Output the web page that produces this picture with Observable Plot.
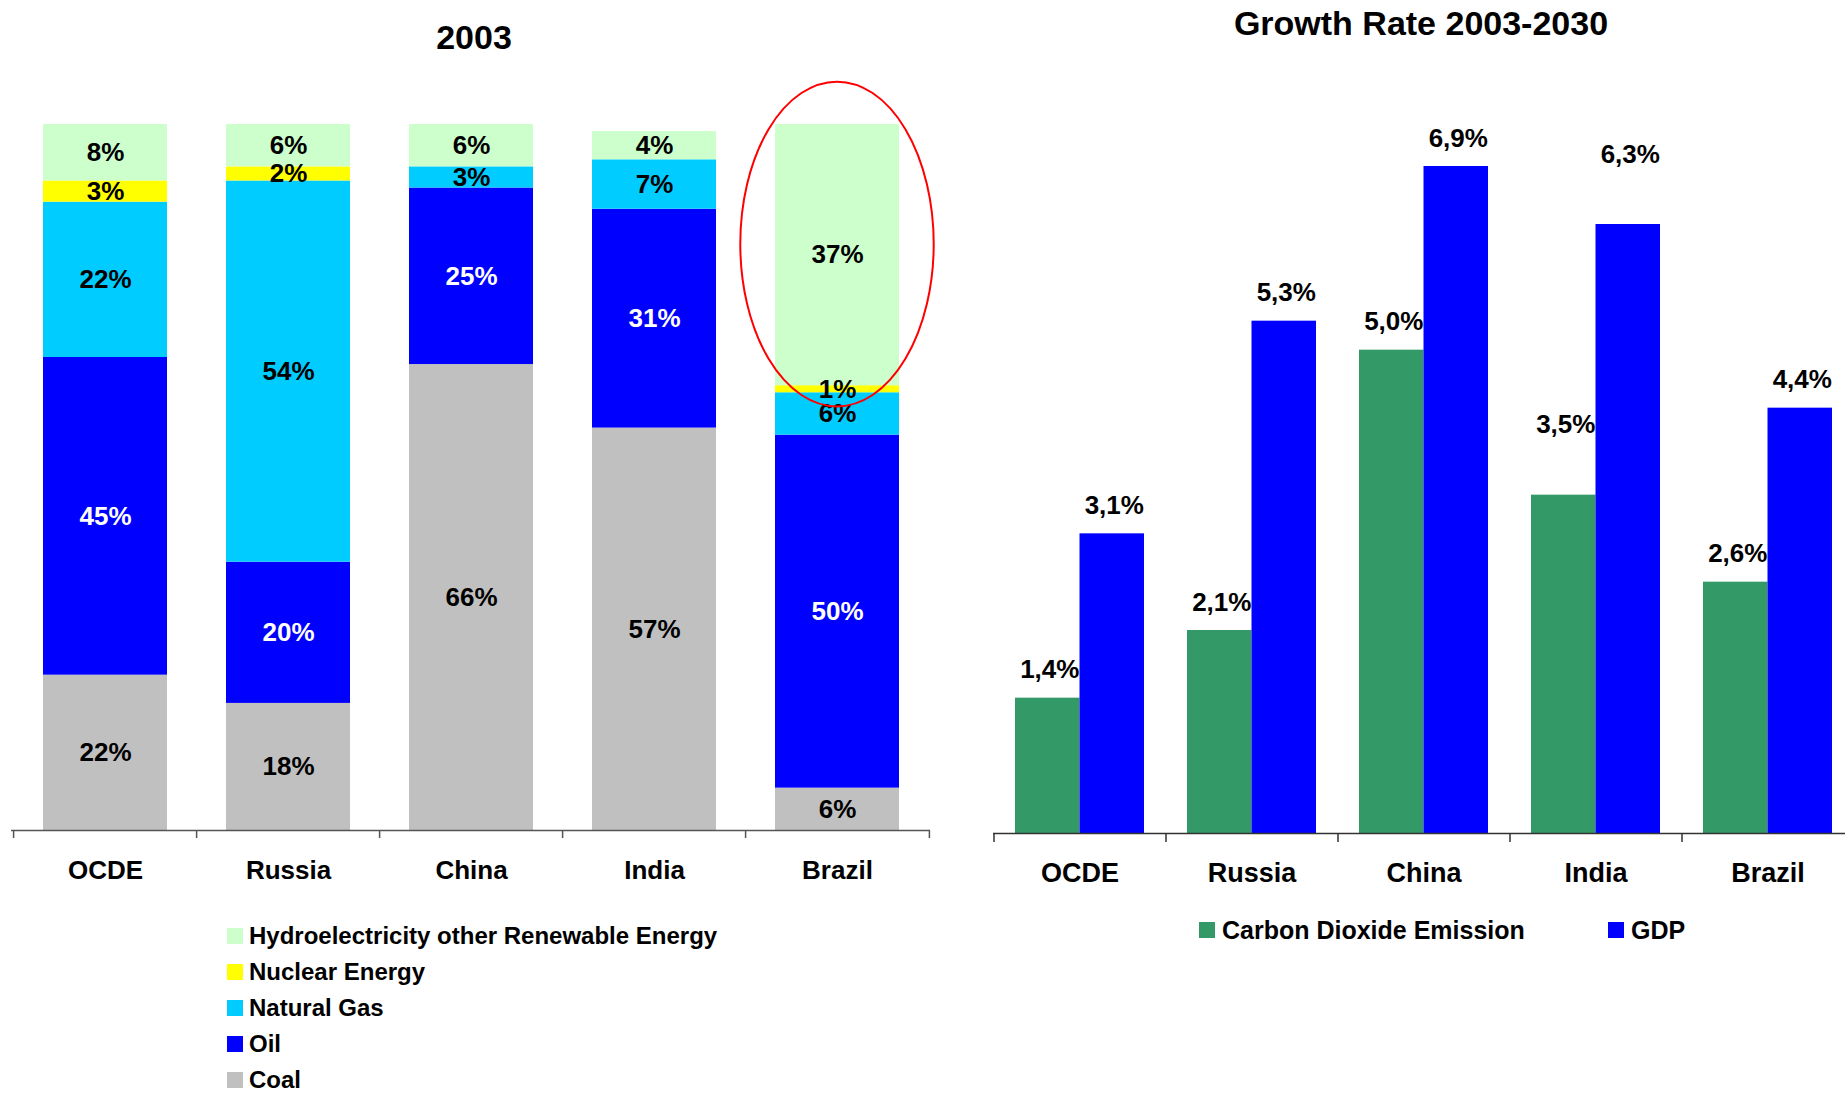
<!DOCTYPE html>
<html>
<head>
<meta charset="utf-8">
<script src="https://cdn.jsdelivr.net/npm/d3@7"></script>
<script src="https://cdn.jsdelivr.net/npm/@observablehq/plot@0.6"></script>
<style>
  html, body { margin: 0; padding: 0; background: #fff; overflow: hidden; }
  #root { position: relative; width: 1845px; height: 1093px; overflow: hidden;
          font-family: "Liberation Sans", Arial, Helvetica, sans-serif; font-weight: bold; color: #000; }
  .abs { position: absolute; }
  .title { font-size: 34px; line-height: 34px; height: 34px; text-align: center; white-space: nowrap; }
  .leg { display: flex; align-items: center; white-space: nowrap; }
  .sw { display: inline-block; width: 16px; height: 16px; margin-right: 6px; }
  svg { overflow: visible; }
</style>
</head>
<body>
<div id="root"></div>
<script>
// ---------- Data ----------
const countries = ["OCDE", "Russia", "China", "India", "Brazil"];

// Energy mix 2003 (%), stacked bottom to top
const sources = ["Coal", "Oil", "Natural Gas", "Nuclear Energy", "Hydroelectricity other Renewable Energy"];
const sourceColors = ["#C0C0C0", "#0000FF", "#00CCFF", "#FFFF00", "#CCFFCC"];
const coal    = [22, 18, 66, 57, 6];
const oil     = [45, 20, 25, 31, 50];
const gas     = [22, 54, 3, 7, 6];
const nuclear = [3, 2, 0, 0, 1];
const hydro   = [8, 6, 6, 4, 37];

// Growth rate 2003-2030 (%)
const growthSeries = ["Carbon Dioxide Emission", "GDP"];
const growthColors = ["#339966", "#0000FF"];
const co2 = [1.4, 2.1, 5.0, 3.5, 2.6];
const gdp = [3.1, 5.3, 6.9, 6.3, 4.4];

// Highlight annotation (red ellipse), in data units
const highlightCountry = "Brazil";
const highlightRange = [60, 106];

// Countries whose growth labels sit higher above the bars in the original
const raisedLabelCountries = ["India"];

// ---------- Tables ----------
const shareValues = [coal, oil, gas, nuclear, hydro];
const shares = [];
countries.forEach((c, i) => sources.forEach((s, j) => shares.push({country: c, source: s, value: shareValues[j][i]})));

const growth = [];
countries.forEach((c, i) => {
  growth.push({country: c, series: growthSeries[0], value: co2[i]});
  growth.push({country: c, series: growthSeries[1], value: gdp[i]});
});

const FONT = '"Liberation Sans", Arial, Helvetica, sans-serif';
const root = document.getElementById("root");

// ---------- Left chart ----------
const L = {width: 945, height: 900, ml: 11, mr: 15, mt: 124, mb: 70, pad: 0.325};
const lStep = (L.width - L.ml - L.mr) / countries.length;
const lPxPerUnit = (L.height - L.mt - L.mb) / 100;
const lTick = 8 / lPxPerUnit;

const left = Plot.plot({
  width: L.width, height: L.height,
  marginLeft: L.ml, marginRight: L.mr, marginTop: L.mt, marginBottom: L.mb,
  style: {fontFamily: FONT, fontWeight: "bold", background: "transparent", overflow: "visible"},
  x: {domain: countries, paddingInner: L.pad, paddingOuter: L.pad / 2, axis: null},
  y: {domain: [0, 100], axis: null},
  color: {domain: sources, range: sourceColors},
  marks: [
    Plot.barY(shares, Plot.stackY({x: "country", y: "value", fill: "source"})),
    Plot.text(shares.filter(d => d.value > 0), Plot.stackY({
      x: "country", y: "value", z: "source",
      text: d => d.source === "Oil" ? "" : d.value + "%",
      fill: "black", fontSize: 26, fontWeight: "bold"
    })),
    Plot.text(shares.filter(d => d.value > 0), Plot.stackY({
      x: "country", y: "value", z: "source",
      text: d => d.source === "Oil" ? d.value + "%" : "",
      fill: "white", fontSize: 26, fontWeight: "bold"
    })),
    Plot.ruleY([0], {stroke: "#555", strokeWidth: 1.5}),
    Plot.ruleX(countries, {x: d => d, dx: -lStep / 2, y1: 0, y2: -lTick, stroke: "#555", strokeWidth: 1.5}),
    Plot.ruleX(countries.slice(-1), {x: d => d, dx: lStep / 2, y1: 0, y2: -lTick, stroke: "#555", strokeWidth: 1.5}),
    Plot.text(countries, {x: d => d, y: 0, dy: 40, text: d => d, fontSize: 26, fontWeight: "bold", fill: "black"}),
    (index, scales) => {
      const x = scales.x, y = scales.y;
      const bw = x.bandwidth ? x.bandwidth() : 0;
      const e = document.createElementNS("http://www.w3.org/2000/svg", "ellipse");
      const y0 = y(highlightRange[0]), y1 = y(highlightRange[1]);
      e.setAttribute("cx", x(highlightCountry) + bw / 2);
      e.setAttribute("cy", (y0 + y1) / 2);
      e.setAttribute("rx", bw * 0.78);
      e.setAttribute("ry", Math.abs(y0 - y1) / 2);
      e.setAttribute("fill", "none");
      e.setAttribute("stroke", "#FF0000");
      e.setAttribute("stroke-width", 2);
      return e;
    }
  ]
});
left.style.position = "absolute";
left.style.left = "0px";
left.style.top = "0px";
root.appendChild(left);

// ---------- Right chart ----------
const R = {left: 945, width: 910, height: 900, ml: 48, mr: 2, mt: 108, mb: 67, pad: 0.25, ymax: 7.5};
const rStep = (R.width - R.ml - R.mr) / countries.length;
const rBand = rStep * (1 - R.pad);
const rPxPerUnit = (R.height - R.mt - R.mb) / R.ymax;
const rTick = 9 / rPxPerUnit;
const fmt = v => v.toFixed(1).replace(".", ",") + "%";
const isRaised = d => raisedLabelCountries.includes(d.country);

function valueLabels(series, dxSide) {
  const rows = growth.filter(d => d.series === series);
  const common = {x: "country", y: "value", text: d => fmt(d.value), dx: dxSide * rBand / 4 + 2, fontSize: 26, fontWeight: "bold", fill: "black"};
  return [
    Plot.text(rows.filter(d => !isRaised(d)), {...common, dy: -28}),
    Plot.text(rows.filter(isRaised), {...common, dy: -70})
  ];
}

const right = Plot.plot({
  width: R.width, height: R.height,
  marginLeft: R.ml, marginRight: R.mr, marginTop: R.mt, marginBottom: R.mb,
  style: {fontFamily: FONT, fontWeight: "bold", background: "transparent", overflow: "visible"},
  x: {domain: countries, paddingInner: R.pad, paddingOuter: R.pad / 2, axis: null},
  y: {domain: [0, R.ymax], axis: null},
  marks: [
    Plot.barY(growth.filter(d => d.series === growthSeries[0]), {x: "country", y: "value", fill: growthColors[0], insetRight: rBand / 2}),
    Plot.barY(growth.filter(d => d.series === growthSeries[1]), {x: "country", y: "value", fill: growthColors[1], insetLeft: rBand / 2}),
    ...valueLabels(growthSeries[0], -1),
    ...valueLabels(growthSeries[1], 1),
    Plot.ruleY([0], {stroke: "#333", strokeWidth: 1.5}),
    Plot.ruleX(countries, {x: d => d, dx: -rStep / 2, y1: 0, y2: -rTick, stroke: "#333", strokeWidth: 1.5}),
    Plot.ruleX(countries.slice(-1), {x: d => d, dx: rStep / 2, y1: 0, y2: -rTick, stroke: "#333", strokeWidth: 1.5}),
    Plot.text(countries, {x: d => d, y: 0, dy: 40, text: d => d, fontSize: 27, fontWeight: "bold", fill: "black"})
  ]
});
right.style.position = "absolute";
right.style.left = R.left + "px";
right.style.top = "0px";
root.appendChild(right);

// ---------- Titles ----------
function addTitle(text, cx, cy) {
  const d = document.createElement("div");
  d.className = "abs title";
  d.textContent = text;
  d.style.left = (cx - 300) + "px";
  d.style.width = "600px";
  d.style.top = (cy - 17) + "px";
  root.appendChild(d);
}
addTitle("2003", 474, 37);
addTitle("Growth Rate 2003-2030", 1421, 23);

// ---------- Legends ----------
const legendOrder = sources.map((s, i) => ({name: s, color: sourceColors[i]})).reverse();
legendOrder.forEach((item, i) => {
  const row = document.createElement("div");
  row.className = "abs leg";
  row.style.left = "227px";
  row.style.top = (936 + i * 36 - 12) + "px";
  row.style.height = "24px";
  row.style.lineHeight = "24px";
  row.style.fontSize = "24px";
  row.innerHTML = `<span class="sw" style="background:${item.color}"></span><span>${item.name}</span>`;
  root.appendChild(row);
});

const rightLegendX = [1199, 1608];
growthSeries.forEach((s, i) => {
  const row = document.createElement("div");
  row.className = "abs leg";
  row.style.left = rightLegendX[i] + "px";
  row.style.top = (930 - 13) + "px";
  row.style.height = "26px";
  row.style.fontSize = "25px";
  row.innerHTML = `<span class="sw" style="background:${growthColors[i]};margin-right:7px"></span><span>${s}</span>`;
  root.appendChild(row);
});
</script>
</body>
</html>
